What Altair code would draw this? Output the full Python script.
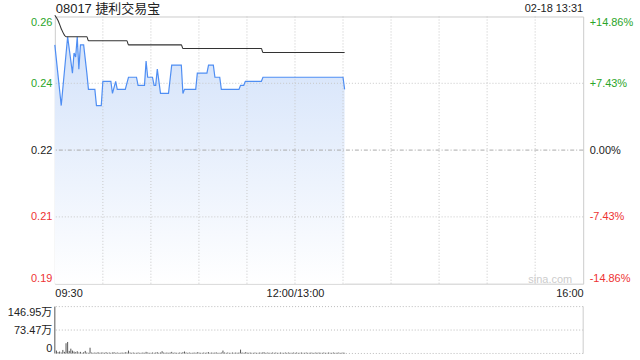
import altair as alt
import pandas as pd

# ---------------- data ----------------
TITLE = "08017 捷利交易宝"
STAMP = "02-18 13:31"
WATERMARK = "sina.com"
PREV_CLOSE = 0.222
Y_MIN, Y_MAX = 0.189, 0.255
PCT_MAX = 14.86
X_MAX = 330  # trading minutes: 09:30-12:00 + 13:00-16:00

price_minute = [0, 4, 8, 11, 12, 13, 14, 15, 16, 18,
                20, 21, 25, 26, 29, 30, 35, 36, 38, 39,
                44, 46, 51, 52, 56, 57, 58, 61, 62, 63,
                64, 66, 71, 73, 79, 80, 81, 88, 89, 95,
                96, 99, 100, 103, 104, 115, 116, 118, 119, 129,
                130, 180, 181]
price_value = [0.248, 0.233, 0.250, 0.241, 0.246, 0.245, 0.250, 0.242, 0.248, 0.248,
               0.241, 0.237, 0.237, 0.233, 0.233, 0.239, 0.239, 0.236, 0.239, 0.237,
               0.237, 0.240, 0.240, 0.238, 0.238, 0.244, 0.240, 0.240, 0.238, 0.238,
               0.242, 0.236, 0.236, 0.243, 0.243, 0.236, 0.237, 0.237, 0.241, 0.241,
               0.243, 0.243, 0.240, 0.240, 0.237, 0.237, 0.238, 0.238, 0.239, 0.239,
               0.240, 0.240, 0.237]

avg_minute = [0, 2, 4, 6, 7, 20, 21, 45, 46, 79, 80, 129, 130, 181]
avg_value = [0.2553, 0.2540, 0.2520, 0.2504, 0.2500, 0.2500, 0.2490, 0.2490,
             0.2480, 0.2480, 0.2471, 0.2471, 0.2461, 0.2461]

volume = [146.95, 9, 4, 6, 3, 11, 5, 32, 36, 8,
          15, 9, 6, 4, 7, 3, 5, 2, 4, 8,
          3, 2, 18, 3, 2, 3, 2, 4, 2, 3,
          3, 2, 4, 2, 3, 2, 3, 4, 2, 3,
          2, 2, 3, 2, 4, 3, 9, 3, 2, 3,
          2, 2, 3, 2, 2, 3, 2, 5, 3, 2,
          2, 3, 2, 3, 4, 2, 3, 7, 3, 2,
          3, 2, 3, 5, 2, 3, 2, 2, 3, 2,
          4, 6, 3, 2, 3, 2, 2, 3, 2, 4,
          3, 2, 2, 3, 2, 3, 4, 2, 3, 2,
          3, 3, 2, 2, 3, 9, 3, 2, 3, 2,
          2, 3, 2, 3, 2, 3, 12, 3, 2, 4,
          3, 2, 3, 2, 2, 3, 2, 2, 3, 2,
          4, 3, 2, 3, 2, 2, 3, 2, 3, 2,
          2, 3, 2, 2, 3, 2, 3, 2, 2, 3,
          2, 3, 2, 2, 3, 2, 2, 3, 2, 2,
          3, 2, 2, 3, 2, 3, 2, 2, 3, 2,
          2, 3, 2, 2, 3, 2, 2, 3, 2, 2,
          3, 2]

x_tick_minutes = [0, 150, 330]
x_tick_labels = ["09:30", "12:00/13:00", "16:00"]
grid_minutes = [30, 60, 90, 120, 150, 180, 210, 240, 270, 300]
price_ticks = [0.255, 0.2385, 0.222, 0.2055, 0.189]
pct_ticks = [14.86, 7.43, 0.0, -7.43, -14.86]
price_grid = [0.2385, 0.2055]
vol_ticks = [0, 73.47, 146.95]

# ---------------- style ----------------
GREEN = "#2aa52a"
RED = "#ee3333"
DARK = "#222222"
FONT = "Liberation Sans, Noto Sans CJK SC"
W, H, VH = 530, 268, 47

price_df = pd.DataFrame({"minute": price_minute, "price": price_value})
avg_df = pd.DataFrame({"minute": avg_minute, "price": avg_value})
vol_df = pd.DataFrame({"minute": list(range(len(volume))), "volume": volume})

x_scale = alt.Scale(domain=[0, X_MAX], nice=False, zero=False)
y_scale = alt.Scale(domain=[Y_MIN, Y_MAX], nice=False, zero=False)
pct_scale = alt.Scale(domain=[-PCT_MAX, PCT_MAX], nice=False, zero=False)
vol_scale = alt.Scale(domain=[0, max(vol_ticks)], nice=False, zero=False)

x_label_expr = " : ".join(
    f"datum.value == {m} ? '{l}'" for m, l in zip(x_tick_minutes[:-1], x_tick_labels[:-1])
) + f" : '{x_tick_labels[-1]}'"

x_axis = alt.Axis(values=x_tick_minutes, labelExpr=x_label_expr, labelFlush=True,
                  grid=False, ticks=False, domain=False, title=None, labelPadding=4,
                  labelColor=DARK)

left_axis = alt.Axis(values=price_ticks, format=".2f", labelFlush=True, grid=False,
                     ticks=False, domain=False, title=None, labelPadding=3,
                     labelColor={"condition": [
                         {"test": f"datum.value > {PREV_CLOSE + 0.0001}", "value": GREEN},
                         {"test": f"datum.value < {PREV_CLOSE - 0.0001}", "value": RED}],
                         "value": DARK})

right_axis = alt.Axis(values=pct_ticks, orient="right", labelFlush=True, grid=False,
                      ticks=False, domain=False, title=None, labelPadding=6,
                      labelExpr="(datum.value > 0 ? '+' : datum.value < 0 ? '-' : '')"
                                " + format(abs(datum.value), '.2f') + '%'",
                      labelColor={"condition": [
                          {"test": "datum.value > 0.001", "value": GREEN},
                          {"test": "datum.value < -0.001", "value": RED}],
                          "value": DARK})

vol_axis = alt.Axis(values=vol_ticks, labelFlush=True, grid=False, ticks=False,
                    domain=False, title=None, labelPadding=3, labelColor=DARK,
                    labelExpr="datum.value == 0 ? '0' : format(datum.value, '.2f') + '万'")

X = alt.X("minute:Q", scale=x_scale, axis=x_axis)
Y = alt.Y("price:Q", scale=y_scale, axis=left_axis)

gradient = alt.Gradient(gradient="linear",
                        stops=[alt.GradientStop(color="#d3e2fa", offset=0),
                               alt.GradientStop(color="#ffffff", offset=1)],
                        x1=0, x2=0, y1=0, y2=1)

area = alt.Chart(price_df).mark_area(color=gradient).encode(
    x=X, y=Y, y2=alt.datum(Y_MIN))

vgrid = alt.Chart(pd.DataFrame({"minute": grid_minutes})).mark_rule(
    color="#c8c8c8", strokeDash=[1, 2], strokeWidth=1).encode(x=X)

hgrid = alt.Chart(pd.DataFrame({"price": price_grid})).mark_rule(
    color="#c8c8c8", strokeDash=[1, 2], strokeWidth=1).encode(y=Y)

mid = alt.Chart(pd.DataFrame({"price": [PREV_CLOSE]})).mark_rule(
    color="#aaaaaa", strokeDash=[4, 2, 1, 2], strokeWidth=1).encode(y=Y)

line = alt.Chart(price_df).mark_line(color="#4f8ef3", strokeWidth=1.2).encode(x=X, y=Y)

avg_line = alt.Chart(avg_df).mark_line(color="#333333", strokeWidth=1.1,
                                       interpolate="monotone").encode(x=X, y=Y)

title_text = alt.Chart(pd.DataFrame({"t": [TITLE]})).mark_text(
    align="left", baseline="middle", fontSize=13, font=FONT, color=DARK).encode(
    text="t:N", x=alt.value(1), y=alt.value(-8))

stamp_text = alt.Chart(pd.DataFrame({"t": [STAMP]})).mark_text(
    align="right", baseline="middle", fontSize=11, font=FONT, color=DARK).encode(
    text="t:N", x=alt.value(W), y=alt.value(-8))

wm_text = alt.Chart(pd.DataFrame({"t": [WATERMARK]})).mark_text(
    align="right", baseline="middle", fontSize=11, font=FONT, color="#cccccc").encode(
    text="t:N", x=alt.value(W - 11), y=alt.value(H - 4))

pct_layer = alt.Chart(price_df).transform_calculate(
    pct=f"(datum.price / {PREV_CLOSE} - 1) * 100").mark_line(opacity=0).encode(
    x=X, y=alt.Y("pct:Q", scale=pct_scale, axis=right_axis))

price_panel = alt.layer(area, vgrid, hgrid, mid, line, avg_line,
                        title_text, stamp_text, wm_text)
top = alt.layer(price_panel, pct_layer).resolve_scale(y="independent").properties(
    width=W, height=H)

VX = alt.X("minute:Q", scale=x_scale, axis=None)
VY = alt.Y("volume:Q", scale=vol_scale, axis=vol_axis)

vbars = alt.Chart(vol_df).mark_rule(color="#555555", strokeWidth=1).encode(
    x=VX, y=VY, y2=alt.datum(0))

vgridlines = alt.Chart(pd.DataFrame({"volume": vol_ticks})).mark_rule(
    color="#bbbbbb", strokeDash=[1, 2], strokeWidth=1).encode(y=VY)

vborder = alt.Chart(pd.DataFrame({"minute": [X_MAX]})).mark_rule(
    color="#cccccc", strokeWidth=1).encode(x=VX)

bottom = alt.layer(vgridlines, vbars, vborder).properties(
    width=W, height=VH, view=alt.ViewBackground(stroke="transparent"))

chart = alt.vconcat(top, bottom, spacing=6).properties(
    padding={"left": 6, "top": 1, "right": 6, "bottom": 6},
    background="white",
).configure_view(stroke="#cccccc", strokeWidth=1).configure_axis(
    labelFont=FONT, labelFontSize=11
)

chart.save("out.html", embed_options={"renderer": "svg", "actions": False})
